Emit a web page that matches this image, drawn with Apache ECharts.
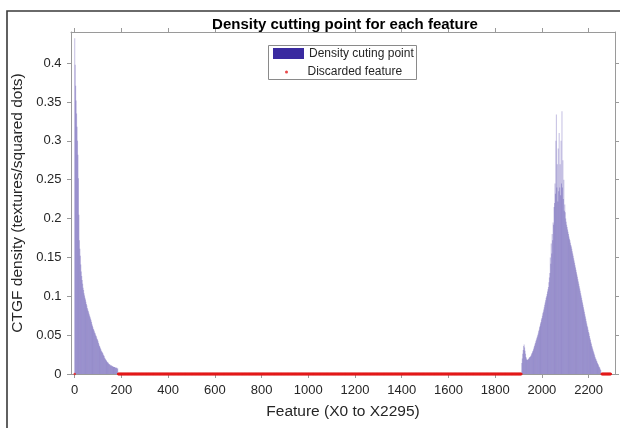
<!DOCTYPE html>
<html>
<head>
<meta charset="utf-8">
<script src="https://cdn.jsdelivr.net/npm/echarts@6/dist/echarts.min.js"></script>
<style>
html,body{margin:0;padding:0;background:#fff;}
#chart{width:620px;height:428px;}
</style>
</head>
<body>
<div id="chart"></div>
<script>
// ---- data ----
var chartTitle = 'Density cutting point for each feature';
var xAxisTitle = 'Feature (X0 to X2295)';
var yAxisTitle = 'CTGF density (textures/squared dots)';
var seriesNames = ['Density cuting point', 'Discarded feature'];
var xTickValues = [0, 200, 400, 600, 800, 1000, 1200, 1400, 1600, 1800, 2000, 2200];
var yTickValues = [0, 0.05, 0.1, 0.15, 0.2, 0.25, 0.3, 0.35, 0.4];

// features sampled every 2nd feature, starting at leftStart / rightStart
var featureStep = 2;
var leftStart = 0;
var leftValues = [
  0.432, 0.398, 0.371, 0.352, 0.335, 0.318, 0.300, 0.282, 0.252, 0.205,
  0.172, 0.161, 0.152, 0.141, 0.132, 0.126, 0.121, 0.116, 0.111, 0.108,
  0.104, 0.101, 0.098, 0.096, 0.093, 0.090, 0.088, 0.085, 0.083, 0.081,
  0.079, 0.077, 0.075, 0.073, 0.071, 0.069, 0.067, 0.064, 0.062, 0.060,
  0.058, 0.057, 0.055, 0.053, 0.052, 0.050, 0.049, 0.047, 0.045, 0.044,
  0.042, 0.040, 0.038, 0.036, 0.035, 0.033, 0.032, 0.030, 0.029, 0.028,
  0.027, 0.025, 0.024, 0.023, 0.021, 0.020, 0.019, 0.018, 0.017, 0.016,
  0.015, 0.015, 0.014, 0.013, 0.013, 0.012, 0.012, 0.011, 0.011, 0.011,
  0.010, 0.010, 0.010, 0.009, 0.009, 0.009, 0.009, 0.008, 0.008, 0.008,
  0.008, 0.007, 0.007
];
var rightStart = 1914;
var rightValues = [
  0.014, 0.020, 0.026, 0.031, 0.036, 0.038, 0.034, 0.030, 0.026, 0.022,
  0.020, 0.018, 0.018, 0.019, 0.019, 0.020, 0.021, 0.022, 0.022, 0.023,
  0.024, 0.026, 0.027, 0.029, 0.030, 0.032, 0.034, 0.036, 0.038, 0.040,
  0.042, 0.044, 0.046, 0.048, 0.050, 0.052, 0.055, 0.057, 0.060, 0.062,
  0.065, 0.067, 0.070, 0.072, 0.075, 0.078, 0.080, 0.083, 0.086, 0.089,
  0.092, 0.095, 0.098, 0.100, 0.103, 0.106, 0.109, 0.112, 0.118, 0.124,
  0.130, 0.150, 0.142, 0.168, 0.155, 0.180, 0.172, 0.195, 0.192, 0.215,
  0.220, 0.245, 0.232, 0.300, 0.334, 0.240, 0.270, 0.222, 0.290, 0.235,
  0.310, 0.240, 0.270, 0.230, 0.300, 0.245, 0.338, 0.240, 0.275, 0.225,
  0.250, 0.210, 0.218, 0.208, 0.200, 0.196, 0.192, 0.189, 0.186, 0.183,
  0.180, 0.177, 0.174, 0.172, 0.169, 0.166, 0.164, 0.161, 0.158, 0.155,
  0.152, 0.149, 0.146, 0.143, 0.140, 0.137, 0.134, 0.131, 0.128, 0.125,
  0.122, 0.119, 0.116, 0.113, 0.110, 0.107, 0.104, 0.101, 0.098, 0.095,
  0.092, 0.089, 0.086, 0.083, 0.080, 0.077, 0.074, 0.071, 0.068, 0.065,
  0.062, 0.060, 0.057, 0.054, 0.052, 0.049, 0.046, 0.044, 0.041, 0.039,
  0.036, 0.034, 0.032, 0.030, 0.028, 0.026, 0.024, 0.022, 0.020, 0.019,
  0.017, 0.016, 0.014, 0.013, 0.012, 0.010, 0.009, 0.008, 0.006, 0.005
];
// discarded features (plotted at density 0), inclusive ranges of feature index
var discardedRanges = [[0, 0], [186, 1912], [2256, 2295]];

// ---- build series data ----
var barData = [];
leftValues.forEach(function (v, i) { barData.push([leftStart + i * featureStep, v]); });
rightValues.forEach(function (v, i) { barData.push([rightStart + i * featureStep, v]); });
var discardedData = [];
discardedRanges.forEach(function (r) {
  for (var f = r[0]; f <= r[1]; f++) discardedData.push([f, 0]);
});

var FONT = "'Liberation Sans', Arial, Helvetica, sans-serif";
var AXIS_COLOR = '#9a9a9a';
var TEXT_COLOR = '#262626';
var BAR_COLOR = '#3a2aa0';
var plainNumber = function (v) { return String(v); };

var chart = echarts.init(document.getElementById('chart'), null, {renderer: 'canvas'});
chart.setOption({
  animation: false,
  backgroundColor: '#fff',
  title: {
    text: chartTitle,
    left: 340, top: 12, textAlign: 'center',
    textStyle: {fontFamily: FONT, fontSize: 15, fontWeight: 'bold', color: '#000'}
  },
  grid: {left: 71, right: 5, top: 32, bottom: 54, containLabel: false},
  legend: [
    {
      data: [{name: seriesNames[0], icon: 'rect', itemStyle: {color: BAR_COLOR, opacity: 1}}],
      left: 273, top: 47.5, padding: 0,
      itemWidth: 31, itemHeight: 11,
      textStyle: {fontFamily: FONT, fontSize: 12, color: TEXT_COLOR}
    },
    {
      data: [{name: seriesNames[1], icon: 'circle'}],
      left: 285, top: 66, padding: 0,
      itemWidth: 32, itemHeight: 3,
      textStyle: {fontFamily: FONT, fontSize: 12, color: TEXT_COLOR}
    }
  ],
  xAxis: [
    {
      type: 'value', position: 'bottom', min: -16, max: 2313,
      name: xAxisTitle, nameLocation: 'middle', nameGap: 30,
      nameTextStyle: {fontFamily: FONT, fontSize: 15.5, color: TEXT_COLOR},
      axisLine: {show: true, onZero: false, lineStyle: {color: AXIS_COLOR, width: 1}},
      axisTick: {show: true, inside: false, length: 4, customValues: xTickValues, lineStyle: {color: AXIS_COLOR}},
      axisLabel: {customValues: xTickValues, formatter: plainNumber, margin: 10, fontFamily: FONT, fontSize: 13, color: TEXT_COLOR},
      splitLine: {show: false}
    },
    {
      type: 'value', position: 'top', min: -16, max: 2313,
      axisLine: {show: true, onZero: false, lineStyle: {color: AXIS_COLOR, width: 1}},
      axisTick: {show: true, inside: false, length: 4, customValues: xTickValues, lineStyle: {color: AXIS_COLOR}},
      axisLabel: {show: false},
      splitLine: {show: false}
    }
  ],
  yAxis: [
    {
      type: 'value', position: 'left', min: 0, max: 0.44,
      name: yAxisTitle, nameLocation: 'middle', nameGap: 35, nameRotate: 90,
      nameTextStyle: {fontFamily: FONT, fontSize: 15.5, color: TEXT_COLOR},
      axisLine: {show: true, onZero: false, lineStyle: {color: AXIS_COLOR, width: 1}},
      axisTick: {show: true, inside: false, length: 4, customValues: yTickValues, lineStyle: {color: AXIS_COLOR}},
      axisLabel: {customValues: yTickValues, formatter: plainNumber, margin: 9.5, fontFamily: FONT, fontSize: 13, color: TEXT_COLOR},
      splitLine: {show: false}
    },
    {
      type: 'value', position: 'right', min: 0, max: 0.44,
      axisLine: {show: true, onZero: false, lineStyle: {color: AXIS_COLOR, width: 1}},
      axisTick: {show: true, inside: false, length: 4, customValues: yTickValues, lineStyle: {color: AXIS_COLOR}},
      axisLabel: {show: false},
      splitLine: {show: false}
    }
  ],
  series: [
    {
      name: seriesNames[0], type: 'bar', xAxisIndex: 0, yAxisIndex: 0,
      data: barData, barWidth: 1, barMinWidth: 1,
      itemStyle: {color: BAR_COLOR, opacity: 0.3},
      silent: true, z: 2
    },
    {
      name: seriesNames[1], type: 'scatter', xAxisIndex: 0, yAxisIndex: 0,
      data: discardedData, symbol: 'circle', symbolSize: 2.4,
      itemStyle: {color: '#e31a1c'},
      silent: true, z: 3
    }
  ],
  graphic: [
    {
      type: 'rect', silent: true, z: 100,
      shape: {x: 268.5, y: 45.5, width: 148, height: 34},
      style: {fill: null, stroke: '#8a8a8a', lineWidth: 1}
    },
    {
      type: 'polyline', silent: true, z: 100,
      shape: {points: [[7, 440], [7, 11], [640, 11]]},
      style: {fill: null, stroke: '#3a3a3a', lineWidth: 1.6}
    }
  ]
});
</script>
</body>
</html>
